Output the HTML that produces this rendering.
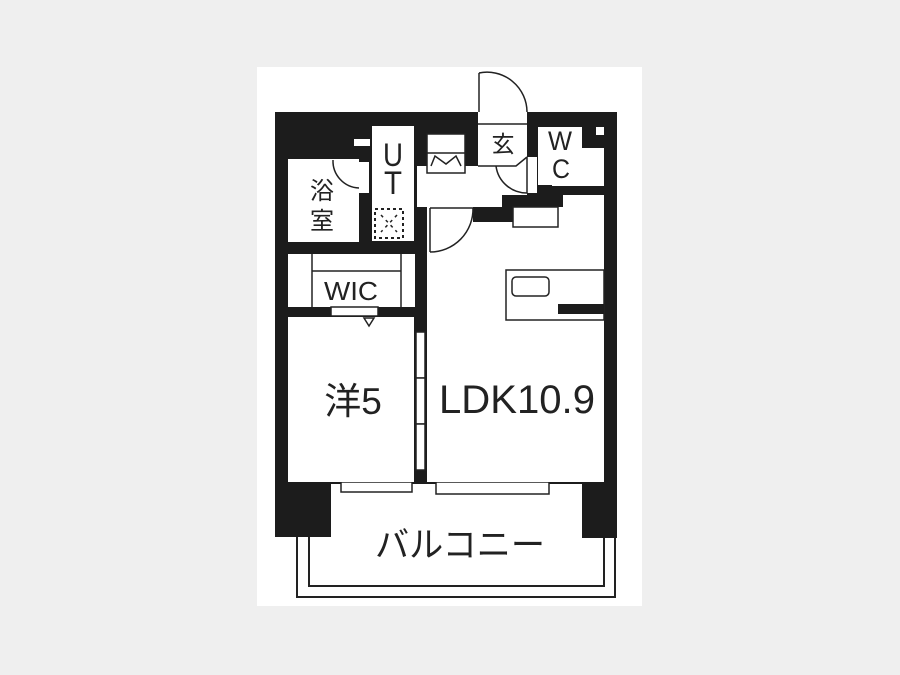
<!DOCTYPE html>
<html><head><meta charset="utf-8"><style>
html,body{margin:0;padding:0;background:#efefef;}
svg{display:block;}
text{font-family:"Liberation Sans","Noto Sans CJK JP",sans-serif;fill:#222;}
</style></head><body>
<svg width="900" height="675" viewBox="0 0 900 675" xmlns="http://www.w3.org/2000/svg">
<rect x="0" y="0" width="900" height="675" fill="#efefef"/>
<rect x="257" y="67" width="385" height="539" fill="#fff"/>
<!-- balcony outline -->
<g fill="none" stroke="#222" stroke-width="2">
<polyline points="297,530 297,597 615,597 615,530"/>
<polyline points="309,530 309,586 604,586 604,530"/>
</g>
<!-- main black mass -->
<rect x="275" y="112" width="342" height="372" fill="#1c1c1c"/>
<rect x="275" y="480" width="56" height="57" fill="#1c1c1c"/>
<rect x="582" y="480" width="35" height="58" fill="#1c1c1c"/>
<g fill="#fff" stroke="#222" stroke-width="1.5">
<rect x="341" y="482" width="71" height="10"/>
<rect x="436" y="482" width="113" height="12"/>
</g>
<g fill="#fff">
<!-- bath -->
<rect x="288" y="159" width="71" height="83"/>
<rect x="354" y="139" width="16" height="7"/>
<rect x="359" y="162" width="10" height="31"/>
<!-- UT -->
<rect x="372" y="126" width="42" height="115"/>
<!-- WIC -->
<rect x="288" y="254" width="127" height="53"/>
<!-- 洋 -->
<rect x="288" y="317" width="126" height="165"/>
<!-- LDK -->
<rect x="427" y="222" width="177" height="260"/>
<rect x="427" y="207" width="46" height="20"/>
<rect x="563" y="195" width="41" height="30"/>
<rect x="513" y="207" width="91" height="20"/>
<!-- hall -->
<rect x="417" y="166" width="110" height="29"/>
<rect x="417" y="166" width="85" height="41"/>
<rect x="427" y="134" width="38" height="40"/>
<!-- entrance -->
<rect x="478" y="112" width="49" height="55"/>
<rect x="527" y="157" width="10" height="36"/>
<!-- WC -->
<rect x="538" y="127" width="44" height="58"/>
<rect x="582" y="148" width="22" height="37"/>
<rect x="552" y="183" width="52" height="3"/>
<rect x="596" y="127" width="8" height="8"/>
</g>
<g fill="none" stroke="#222" stroke-width="1.5">
<line x1="478" y1="124" x2="527" y2="124"/>
<line x1="479" y1="73" x2="479" y2="112"/>
<path d="M479 73 A40 40 0 0 1 527 112"/>
<polyline points="478,166 516,166 527,157"/>
<path d="M496 166 A31 31 0 0 0 527 193"/>
<line x1="527" y1="157" x2="527" y2="193"/>
<path d="M333 160 A27 27 0 0 0 359 188"/>
<rect x="427" y="134" width="38" height="39"/>
<line x1="427" y1="153" x2="465" y2="153"/>
<path d="M431 166 L435 156 L446 164 L456 156 L461 166"/>
<rect x="375" y="209" width="28" height="29" stroke-dasharray="3 3" stroke-width="2"/>
<line x1="381" y1="215" x2="397" y2="232" stroke-dasharray="3 4"/>
<line x1="397" y1="215" x2="381" y2="232" stroke-dasharray="3 4"/>
<line x1="430" y1="208" x2="473" y2="208"/>
<path d="M473 208 A43 43 0 0 1 430 252"/>
<line x1="430" y1="208" x2="430" y2="252"/>
<rect x="513" y="207" width="45" height="20"/>
<line x1="312" y1="254" x2="312" y2="307"/>
<line x1="401" y1="254" x2="401" y2="307"/>
<line x1="312" y1="271" x2="401" y2="271"/>
<rect x="506" y="270" width="98" height="50"/>
<rect x="512" y="277" width="37" height="19" rx="4"/>
</g>
<rect x="558" y="304" width="46" height="10" fill="#1c1c1c"/>
<rect x="331" y="307" width="47" height="9" fill="#fff" stroke="#222" stroke-width="1.5"/>
<path d="M364 318 L374 318 L369 326 Z" fill="none" stroke="#222" stroke-width="1.5"/>
<g fill="#fff" stroke="#222" stroke-width="1.5">
<rect x="416" y="332" width="9" height="46"/>
<rect x="416" y="378" width="9" height="46"/>
<rect x="416" y="424" width="9" height="46"/>
</g>
<!-- labels -->
<text x="322" y="199" font-size="24" text-anchor="middle">浴</text>
<text x="322" y="229" font-size="24" text-anchor="middle">室</text>
<text x="393" y="166" font-size="32" text-anchor="middle" textLength="20" lengthAdjust="spacingAndGlyphs">U</text>
<text x="393" y="194" font-size="32" text-anchor="middle" textLength="18" lengthAdjust="spacingAndGlyphs">T</text>
<text x="503" y="152" font-size="23" text-anchor="middle">玄</text>
<text x="560" y="150" font-size="27" text-anchor="middle" textLength="24" lengthAdjust="spacingAndGlyphs">W</text>
<text x="561" y="178" font-size="27" text-anchor="middle" textLength="18" lengthAdjust="spacingAndGlyphs">C</text>
<text x="351" y="300" font-size="26" text-anchor="middle" textLength="54" lengthAdjust="spacingAndGlyphs">WIC</text>
<text x="353" y="414" font-size="37" text-anchor="middle">洋5</text>
<text x="517" y="413" font-size="40" text-anchor="middle" textLength="156" lengthAdjust="spacingAndGlyphs">LDK10.9</text>
<text x="460" y="557" font-size="35" text-anchor="middle" textLength="170" lengthAdjust="spacingAndGlyphs">バルコニー</text>
</svg>
</body></html>
